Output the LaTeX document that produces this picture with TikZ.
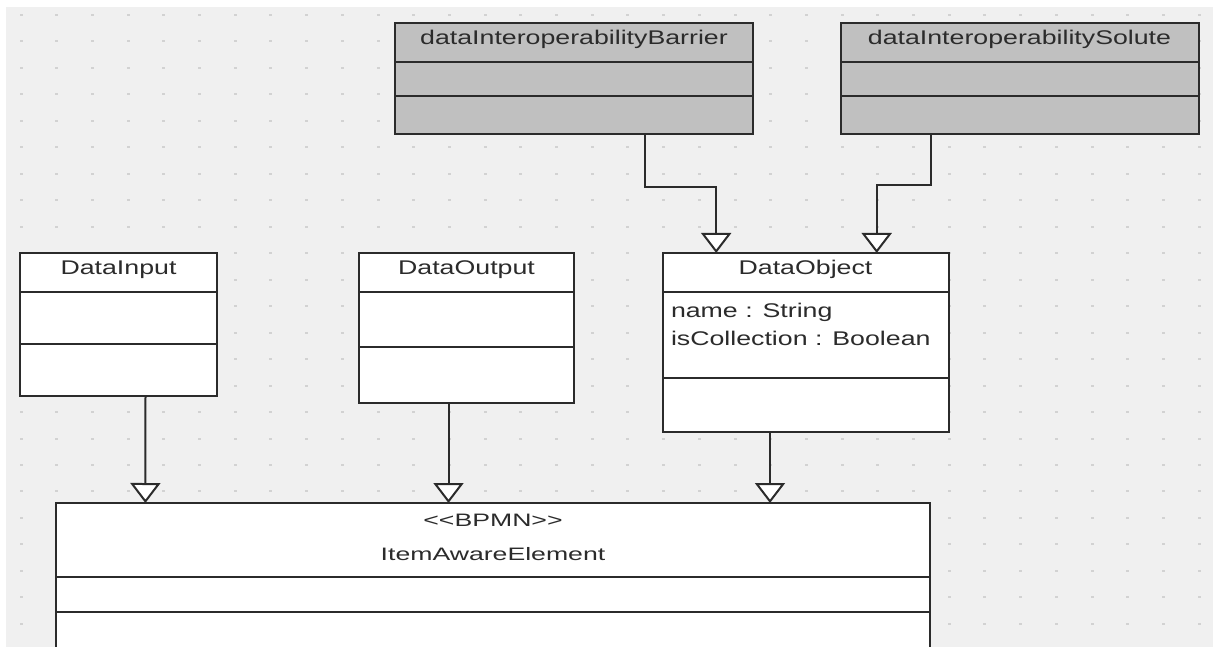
\documentclass[tikz,border=0pt]{standalone}
\usepackage{graphicx}
\usepackage{xcolor}
\usepackage{fontspec}
\newfontfamily\umlsans{Liberation Sans}
\usetikzlibrary{arrows.meta}

\begin{document}
\begin{tikzpicture}[x=1pt,y=-1pt,line cap=rect]
\def\classfontA#1{{\umlsans\fontsize{19.8pt}{19.8pt}\selectfont\scalebox{1.35}[1]{#1}}}
\def\classfontB#1{{\umlsans\fontsize{18pt}{18pt}\selectfont\scalebox{1.48}[1]{#1}}}
\definecolor{custcol_f0_f0_f0}{RGB}{240, 240, 240}
\definecolor{custcol_d2_d2_d2}{RGB}{210, 210, 210}
\definecolor{custcol_c0_c0_c0}{RGB}{192, 192, 192}
\definecolor{custcol_2b_2b_2b}{RGB}{43, 43, 43}
\definecolor{custcol_ff_ff_ff}{RGB}{255, 255, 255}
\tikzset{
  classbox/.style={draw=custcol_2b_2b_2b, line width=2.0pt, inner sep=0, outer sep=0, anchor=north west},
  divline/.style={draw=custcol_2b_2b_2b, line width=1.6pt, line cap=butt},
  classtext/.style={inner sep=0, outer sep=0, text=custcol_2b_2b_2b},
  genline/.style={draw=custcol_2b_2b_2b, line width=2.0pt, line cap=butt,
    -{Triangle[open, length=20pt, width=30pt, fill=custcol_ff_ff_ff]}}
}
\useasboundingbox (0,0) rectangle (1213,647);
\clip (0,0) rectangle (1213,647);
% canvas and grid
\fill [custcol_f0_f0_f0] (6,7) rectangle (1213,647);
\foreach \i in {0,...,33}
  \foreach \j in {0,...,23}
    \fill [custcol_d2_d2_d2] (19.5+35.7*\i,14+26.47*\j) rectangle ++(3,2);
% grey classes
\node[classbox, fill=custcol_c0_c0_c0, minimum width=358pt, minimum height=111pt] (barrier) at (395,23) {};
\draw[divline] (barrier.west |- 0,62) -- (barrier.east |- 0,62);
\draw[divline] (barrier.west |- 0,96) -- (barrier.east |- 0,96);
\node[classtext, anchor=base] (barriername) at (574,45) {\classfontA{dataInteroperabilityBarrier}};
\node[classbox, fill=custcol_c0_c0_c0, minimum width=358pt, minimum height=111pt] (solute) at (841,23) {};
\draw[divline] (solute.west |- 0,62) -- (solute.east |- 0,62);
\draw[divline] (solute.west |- 0,96) -- (solute.east |- 0,96);
\node[classtext, anchor=base] (solutename) at (1019.5,45) {\classfontA{dataInteroperabilitySolute}};
% white classes
\node[classbox, fill=custcol_ff_ff_ff, minimum width=197pt, minimum height=143pt] (datainput) at (20,253) {};
\draw[divline] (datainput.west |- 0,292) -- (datainput.east |- 0,292);
\draw[divline] (datainput.west |- 0,344) -- (datainput.east |- 0,344);
\node[classtext, anchor=base] (datainputname) at (118.5,275) {\classfontA{DataInput}};
\node[classbox, fill=custcol_ff_ff_ff, minimum width=215pt, minimum height=150pt] (dataoutput) at (359,253) {};
\draw[divline] (dataoutput.west |- 0,292) -- (dataoutput.east |- 0,292);
\draw[divline] (dataoutput.west |- 0,347) -- (dataoutput.east |- 0,347);
\node[classtext, anchor=base] (dataoutputname) at (466.5,275) {\classfontA{DataOutput}};
\node[classbox, fill=custcol_ff_ff_ff, minimum width=286pt, minimum height=178.5pt] (dataobject) at (662.5,253) {};
\draw[divline] (dataobject.west |- 0,292) -- (dataobject.east |- 0,292);
\draw[divline] (dataobject.west |- 0,378) -- (dataobject.east |- 0,378);
\node[classtext, anchor=base] (dataobjectname) at (805.5,275) {\classfontA{DataObject}};
\node[classtext, anchor=base west] (attrname) at (671,317) {\classfontA{name : String}};
\node[classtext, anchor=base west] (attrcoll) at (671,345) {\classfontA{isCollection : Boolean}};
\node[classbox, fill=custcol_ff_ff_ff, minimum width=874pt, minimum height=160pt] (item) at (56,503) {};
\draw[divline] (item.west |- 0,577) -- (item.east |- 0,577);
\draw[divline] (item.west |- 0,612) -- (item.east |- 0,612);
\node[classtext, anchor=base] (itemstereo) at (493,526.5) {\classfontB{<{}<BPMN>{}>}};
\node[classtext, anchor=base] (itemname) at (493,560) {\classfontB{ItemAwareElement}};
% generalizations
\draw[genline] ([xshift=71pt]barrier.south) -- ++(0,52.7) -| ([xshift=-89.3pt]dataobject.north);
\draw[genline] ([xshift=-89.5pt]solute.south) -- ++(0,51.5) -| ([xshift=71.2pt]dataobject.north);
\draw[genline] ([xshift=27pt]datainput.south) -- ([xshift=-347.6pt]item.north);
\draw[genline] ([xshift=-18pt]dataoutput.south) -- ([xshift=-44.5pt]item.north);
\draw[genline] ([xshift=-35.5pt]dataobject.south) -- ([xshift=277pt]item.north);
\end{tikzpicture}
\end{document}
